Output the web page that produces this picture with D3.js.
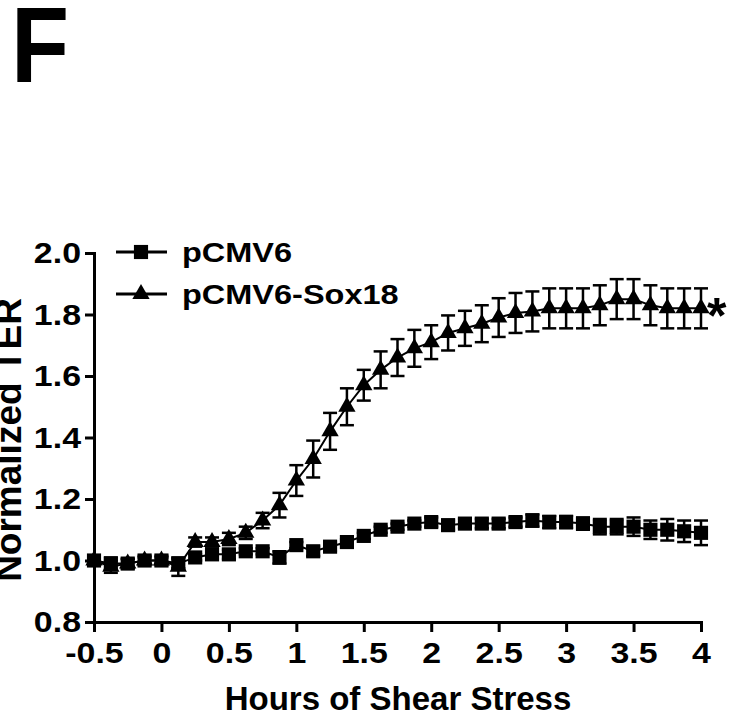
<!DOCTYPE html>
<html>
<meta charset="utf-8">
<style>
    body { margin: 0; background: #fff; }
    text { font-family: "Liberation Sans", Arial, sans-serif; font-weight: bold; fill: #000; }
    .axis path, .axis line { stroke: #000; stroke-width: 3px; }
    .series { fill: none; stroke: #000; stroke-width: 2px; }
    .err { stroke: #000; stroke-width: 2.5px; }
</style>
<body>
<script src="https://cdn.jsdelivr.net/npm/d3@7"></script>
<script>

    // hours of shear stress (one reading every 7.5 min)
    var hours = [-0.5, -0.375, -0.25, -0.125, 0, 0.125, 0.25, 0.375, 0.5, 0.625, 0.75, 0.875,
        1, 1.125, 1.25, 1.375, 1.5, 1.625, 1.75, 1.875, 2, 2.125, 2.25, 2.375, 2.5, 2.625,
        2.75, 2.875, 3, 3.125, 3.25, 3.375, 3.5, 3.625, 3.75, 3.875, 4];

    var pcmvMean = [1.00, 0.99, 0.99, 1.00, 1.00, 0.99, 1.01, 1.02, 1.02, 1.03, 1.03, 1.01,
        1.05, 1.03, 1.045, 1.06, 1.08, 1.10, 1.11, 1.12, 1.125, 1.115, 1.12, 1.12, 1.12, 1.125,
        1.13, 1.125, 1.125, 1.12, 1.11, 1.11, 1.11, 1.10, 1.10, 1.095, 1.09];
    var pcmvSem = [0.01, 0.02, 0.015, 0.01, 0.01, 0.015, 0.01, 0.015, 0.015, 0.01, 0.01, 0.02,
        0.01, 0.015, 0.015, 0.01, 0.01, 0.01, 0.01, 0.01, 0.015, 0.015, 0.015, 0.015, 0.015, 0.015,
        0.02, 0.02, 0.02, 0.02, 0.025, 0.025, 0.03, 0.03, 0.035, 0.035, 0.04];

    var soxMean = [1.00, 0.98, 0.99, 1.00, 1.00, 0.98, 1.06, 1.06, 1.07, 1.09, 1.13, 1.18,
        1.26, 1.33, 1.42, 1.50, 1.57, 1.62, 1.66, 1.69, 1.71, 1.74, 1.755, 1.77, 1.79, 1.805,
        1.81, 1.82, 1.82, 1.82, 1.83, 1.85, 1.85, 1.83, 1.82, 1.82, 1.82];
    var soxSem = [0.015, 0.02, 0.015, 0.015, 0.015, 0.03, 0.015, 0.015, 0.02, 0.02, 0.025, 0.04,
        0.05, 0.06, 0.06, 0.06, 0.05, 0.06, 0.06, 0.06, 0.055, 0.057, 0.057, 0.06, 0.063, 0.065,
        0.065, 0.065, 0.065, 0.065, 0.065, 0.065, 0.065, 0.065, 0.065, 0.065, 0.065];

    var xTicks = [-0.5, 0, 0.5, 1, 1.5, 2, 2.5, 3, 3.5, 4];
    var yTicks = [0.8, 1.0, 1.2, 1.4, 1.6, 1.8, 2.0];
    var seriesNames = ["pCMV6", "pCMV6-Sox18"];

    var width = 748, height = 722;

    var svg = d3.select("body").append("svg")
        .attr("width", width)
        .attr("height", height);

    // the source figure's lettering is a bit wider than Arial
    function stretch(sel, k) {
        sel.each(function () {
            var w = this.getComputedTextLength();
            d3.select(this).attr("textLength", w * k).attr("lengthAdjust", "spacingAndGlyphs");
        });
    }

    // scales
    var x = d3.scaleLinear().domain([-0.5, 4]).range([94, 701]);
    var y = d3.scaleLinear().domain([0.8, 2.0]).range([622, 253]);

    // panel letter
    svg.append("text")
        .attr("x", 11)
        .attr("y", 82)
        .style("font-size", "108px")
        .text("F")
        .call(stretch, 0.88);

    // axes
    svg.append("g")
        .attr("class", "axis")
        .attr("transform", "translate(94,0)")
        .call(d3.axisLeft(y).tickValues(yTicks).tickFormat(d3.format(".1f"))
            .tickSize(9).tickSizeOuter(0).tickPadding(4));

    svg.append("g")
        .attr("class", "axis")
        .attr("transform", "translate(0,622)")
        .call(d3.axisBottom(x).tickValues(xTicks).tickFormat(function (d) { return String(d); })
            .tickSize(10).tickSizeOuter(0).tickPadding(10));

    svg.selectAll(".axis text")
        .style("font-size", "30px")
        .attr("font-family", null)
        .call(stretch, 1.13);
    svg.selectAll(".axis path").attr("stroke-linecap", "square");

    // axis titles
    svg.append("text")
        .attr("x", 398)
        .attr("y", 710)
        .attr("text-anchor", "middle")
        .style("font-size", "33px")
        .text("Hours of Shear Stress");

    svg.append("text")
        .attr("transform", "translate(21,440) rotate(-90)")
        .attr("text-anchor", "middle")
        .style("font-size", "37px")
        .text("Normalized TER");

    // data rows
    function rows(mean, sem) {
        return hours.map(function (h, i) { return { h: h, v: mean[i], e: sem[i] }; });
    }
    var pcmv = rows(pcmvMean, pcmvSem);
    var sox = rows(soxMean, soxSem);

    var line = d3.line()
        .x(function (d) { return x(d.h); })
        .y(function (d) { return y(d.v); });

    var tri = d3.symbol().type(d3.symbolTriangle).size(130);
    var sq = d3.symbol().type(d3.symbolSquare).size(200);

    function drawSeries(data, shape) {
        var g = svg.append("g");
        g.append("path").datum(data).attr("class", "series").attr("d", line);

        var eb = g.selectAll(".eb").data(data).enter().append("g");
        eb.append("line").attr("class", "err")
            .attr("x1", function (d) { return x(d.h); })
            .attr("x2", function (d) { return x(d.h); })
            .attr("y1", function (d) { return y(d.v - d.e); })
            .attr("y2", function (d) { return y(d.v + d.e); });
        [1, -1].forEach(function (s) {
            eb.append("line").attr("class", "err")
                .attr("x1", function (d) { return x(d.h) - 7; })
                .attr("x2", function (d) { return x(d.h) + 7; })
                .attr("y1", function (d) { return y(d.v + s * d.e); })
                .attr("y2", function (d) { return y(d.v + s * d.e); });
        });

        g.selectAll(".pt").data(data).enter().append("path")
            .attr("transform", function (d) { return "translate(" + x(d.h) + "," + y(d.v) + ")"; })
            .attr("d", shape)
            .attr("fill", "#000");
    }

    drawSeries(sox, tri);
    drawSeries(pcmv, sq);

    // significance mark
    svg.append("text")
        .attr("x", x(4) + 6)
        .attr("y", y(soxMean[soxMean.length - 1]) + 25)
        .style("font-size", "50px")
        .text("*");

    // legend
    var legend = svg.append("g");
    seriesNames.forEach(function (name, i) {
        var ly = 252 + i * 42;
        legend.append("line")
            .attr("x1", 116).attr("x2", 167)
            .attr("y1", ly).attr("y2", ly)
            .attr("stroke", "#000").attr("stroke-width", 3);
        legend.append("path")
            .attr("transform", "translate(141," + ly + ")")
            .attr("d", i === 0 ? sq : tri)
            .attr("fill", "#000");
        legend.append("text")
            .attr("x", 182)
            .attr("y", ly + 10)
            .style("font-size", "28px")
            .text(name)
            .call(stretch, 1.16);
    });

</script>
</body>
</html>
